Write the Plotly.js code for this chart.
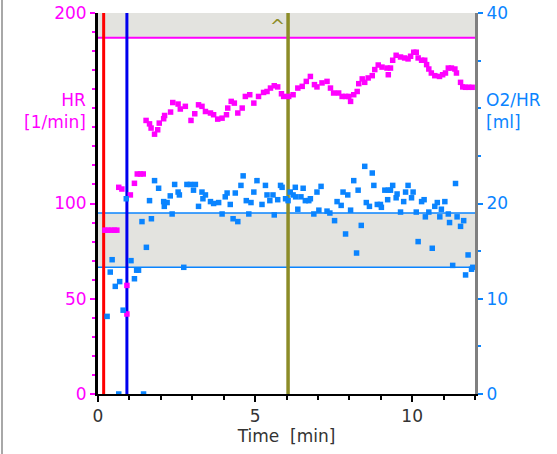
<!DOCTYPE html>
<html>
<head>
<meta charset="utf-8">
<script src="https://cdn.plot.ly/plotly-3.0.1.min.js"></script>
<style>
html,body{margin:0;padding:0;background:#fff;}
#frame{position:absolute;left:1px;top:0;width:2px;height:454px;background:#a8a8a8;}
#chart{width:557px;height:454px;}
</style>
</head>
<body>
<div id="chart"></div>
<div id="frame"></div>
<script>
// ---- Data (time in minutes) ----
const hrTime = [0.22,0.32,0.42,0.52,0.60,0.66,0.76,0.92,0.92,1.03,1.16,1.25,1.35,1.44,
  1.53,1.64,1.69,1.80,1.90,1.95,2.09,2.12,2.31,2.38,2.55,2.62,2.78,2.96,3.08,3.20,
  3.31,3.42,3.58,3.68,3.81,3.95,4.09,4.13,4.24,4.34,4.45,4.59,4.69,4.83,4.96,5.11,
  5.27,5.38,5.49,5.61,5.72,5.84,5.91,6.07,6.21,6.36,6.50,6.63,6.76,6.89,6.97,7.13,
  7.29,7.40,7.50,7.66,7.77,7.88,7.98,8.04,8.14,8.25,8.30,8.41,8.49,8.60,8.73,8.81,
  8.92,9.04,9.20,9.24,9.31,9.38,9.49,9.63,9.76,9.87,9.95,10.05,10.13,10.19,10.30,
  10.40,10.46,10.53,10.61,10.72,10.87,10.97,11.06,11.15,11.25,11.36,11.41,11.54,
  11.61,11.70,11.80,11.91];
const hrValues = [86,86,86,86,86,108.5,107.6,57,42,104.5,110.6,115.5,115.5,115.5,
  143.6,141.8,139.6,136.4,138.7,142.2,144.5,146.2,148,153,152.2,149.6,151,143.6,147.1,151.8,
  151,148.3,147.5,146.6,144.3,144.8,146.6,150.1,153.6,152.7,147.5,150.1,156.2,157.1,152.7,156.2,
  158.3,158.8,160.6,161.8,161.2,157.6,156.2,156.2,157.1,160.6,161.5,164.1,166.7,162.4,161.2,163.3,
  164.1,160.6,158,158,156.2,156.2,156.2,153.6,157.1,158.8,162.9,165.4,163.6,165.9,167.1,170.3,
  172.7,171.6,171.1,167.6,171.1,175.2,177.8,176.9,176.4,175.9,177.3,179.4,179.4,176.4,175.2,
  175.2,172.9,170.6,168.5,167.1,166.7,167.6,168.5,171.1,171.1,170.6,168.5,163.6,
  161.2,161,161,161];

const o2Time = [0.29,0.39,0.45,0.55,0.66,0.69,0.80,0.90,1.05,1.16,1.23,1.29,1.40,1.45,
  1.54,1.64,1.70,1.80,1.93,2.09,2.11,2.20,2.30,2.36,2.44,2.55,2.59,2.73,2.83,2.94,
  3.04,3.10,3.20,3.31,3.34,3.42,3.58,3.68,3.84,3.95,4.05,4.11,4.21,4.30,4.37,4.45,
  4.55,4.62,4.72,4.80,4.87,4.96,5.06,5.22,5.33,5.38,5.47,5.57,5.61,5.72,5.81,5.86,
  5.97,6.05,6.12,6.21,6.28,6.29,6.36,6.46,6.53,6.60,6.71,6.76,6.87,6.97,7.03,7.10,
  7.29,7.38,7.53,7.61,7.74,7.80,7.88,7.95,8.04,8.14,8.23,8.28,8.38,8.49,8.54,8.64,
  8.73,8.78,8.89,8.99,9.02,9.13,9.22,9.24,9.31,9.38,9.49,9.52,9.63,9.73,9.79,9.87,
  9.98,10.03,10.13,10.19,10.30,10.38,10.42,10.53,10.64,10.72,10.80,10.88,10.93,11.04,
  11.15,11.19,11.29,11.38,11.43,11.54,11.64,11.70,11.78,11.89,11.93];
const o2Values = [8.15,12.8,14.1,11.3,0,11.8,8.8,20.5,14.0,12.1,13.0,13.0,18.1,0,
  15.4,20.3,18.4,22.4,21.6,20.2,19.7,20.1,20.8,18.9,22.0,21.2,20.9,13.3,22.0,22.0,
  21.4,22.0,19.7,21.2,20.5,20.9,20.2,20.0,20.1,18.9,20.7,21.1,19.9,18.4,21.1,18.1,
  21.9,22.9,20.3,18.9,20.1,21.2,22.4,19.9,21.9,20.9,20.3,20.9,18.8,20.4,21.9,21.7,
  20.5,20.3,21.2,20.9,21.7,20.7,19.4,20.7,21.6,20.3,20.3,20.5,18.9,21.2,19.3,21.8,
  19.2,19.0,18.2,20.2,19.8,21.2,16.8,20.9,19.3,22.4,14.8,21.4,17.7,23.9,20.1,19.7,
  23.2,21.9,19.9,19.9,19.6,21.4,20.4,21.4,21.4,21.9,20.6,21.0,19.1,20.2,21.2,21.9,
  20.6,21.2,19.1,16.0,20.2,20.4,18.6,19.1,15.3,19.7,20.1,18.6,19.4,20.2,
  18.9,18.0,13.5,22.1,18.6,17.6,18.2,12.5,14.6,13.1,13.3];

const hrBandLow = 187, hrMax = 200;
const o2BandLow = 13.3, o2BandHigh = 19.0;
const markerTimes = {red: 0.18, blue: 0.92, olive: 6.05};
const xTicks = [0,5,10];
const hrTicks = [0,50,100,200];
const o2Ticks = [0,10,20,40];

const MAG = '#ff00ff', BLU = '#0a84ff', OLIVE = '#8c8c28';
const FONT = 'DejaVu Sans, Verdana, sans-serif';
const FS = 17;

const traces = [
  {x: hrTime, y: hrValues, type: 'scatter', mode: 'markers', yaxis: 'y',
   marker: {symbol: 'square', size: 5.5, color: MAG, line: {width: 0}}, hoverinfo: 'skip'},
  {x: o2Time, y: o2Values, type: 'scatter', mode: 'markers', yaxis: 'y2',
   marker: {symbol: 'square', size: 5.5, color: BLU, line: {width: 0}}, hoverinfo: 'skip'}
];

const shapes = [
  {type: 'rect', xref: 'paper', x0: 0, x1: 1, yref: 'y', y0: hrBandLow, y1: hrMax,
   fillcolor: '#e3e3df', line: {width: 0}, layer: 'below'},
  {type: 'line', xref: 'paper', x0: 0, x1: 1, yref: 'y', y0: hrBandLow, y1: hrBandLow,
   line: {color: MAG, width: 2}, layer: 'below'},
  {type: 'rect', xref: 'paper', x0: 0, x1: 1, yref: 'y2', y0: o2BandLow, y1: o2BandHigh,
   fillcolor: '#e3e3df', line: {width: 0}, layer: 'below'},
  {type: 'line', xref: 'paper', x0: 0, x1: 1, yref: 'y2', y0: o2BandHigh, y1: o2BandHigh,
   line: {color: BLU, width: 1.5}, layer: 'below'},
  {type: 'line', xref: 'paper', x0: 0, x1: 1, yref: 'y2', y0: o2BandLow, y1: o2BandLow,
   line: {color: BLU, width: 1.5}, layer: 'below'},
  {type: 'line', xref: 'x', x0: markerTimes.red, x1: markerTimes.red, yref: 'paper', y0: 0, y1: 1,
   line: {color: '#ff0000', width: 3}, layer: 'below'},
  {type: 'line', xref: 'x', x0: markerTimes.blue, x1: markerTimes.blue, yref: 'paper', y0: 0, y1: 1,
   line: {color: '#0000ee', width: 3}, layer: 'below'},
  {type: 'line', xref: 'x', x0: markerTimes.olive, x1: markerTimes.olive, yref: 'paper', y0: 0, y1: 1,
   line: {color: OLIVE, width: 3.5}, layer: 'below'}
];

const layout = {
  width: 557, height: 454,
  margin: {l: 98, r: 82, t: 13, b: 60, pad: 0},
  paper_bgcolor: '#ffffff', plot_bgcolor: '#ffffff',
  showlegend: false,
  font: {family: FONT, size: FS},
  xaxis: {
    range: [0, 12], tickmode: 'array', tickvals: xTicks,
    ticks: 'outside', ticklen: 6, tickwidth: 2, tickcolor: '#000',
    showline: true, linecolor: '#000', linewidth: 2,
    showgrid: false, zeroline: false,
    tickfont: {family: FONT, size: FS, color: '#333'},
    minor: {dtick: 1, tick0: 0, ticks: 'outside', ticklen: 4, tickwidth: 2, tickcolor: '#000', showgrid: false},
    title: {text: 'Time\u00a0 [min]', font: {family: FONT, size: FS, color: '#333'}, standoff: 2}
  },
  yaxis: {
    range: [0, 200], tickmode: 'array', tickvals: hrTicks,
    ticks: 'outside', ticklen: 5, tickwidth: 2, tickcolor: MAG,
    showline: true, linecolor: '#000', linewidth: 3,
    showgrid: false, zeroline: false,
    tickfont: {family: FONT, size: FS, color: MAG},
    minor: {dtick: 10, tick0: 0, ticks: 'outside', ticklen: 3, tickwidth: 2, tickcolor: MAG, showgrid: false}
  },
  yaxis2: {
    range: [0, 40], tickmode: 'array', tickvals: o2Ticks, overlaying: 'y', side: 'right',
    ticks: 'outside', ticklen: 5, tickwidth: 2, tickcolor: BLU,
    showline: true, linecolor: '#808080', linewidth: 3,
    showgrid: false, zeroline: false,
    tickfont: {family: FONT, size: FS, color: BLU},
    minor: {dtick: 5, tick0: 0, ticks: 'outside', ticklen: 3, tickwidth: 2, tickcolor: BLU, showgrid: false}
  },
  shapes: shapes,
  annotations: [
    {xref: 'paper', yref: 'paper', x: -0.027, y: 0.742, xanchor: 'right', yanchor: 'middle', align: 'right',
     text: 'HR<br>[1/min]', showarrow: false, font: {family: FONT, size: FS, color: MAG}},
    {xref: 'paper', yref: 'paper', x: 1.024, y: 0.742, xanchor: 'left', yanchor: 'middle', align: 'left',
     text: 'O2/HR<br>[ml]', showarrow: false, font: {family: FONT, size: FS, color: BLU}},
    {xref: 'x', yref: 'y', x: 5.71, y: 193.5, xanchor: 'center', yanchor: 'middle',
     text: '^', showarrow: false, font: {family: FONT, size: 18, color: OLIVE}}
  ]
};

Plotly.newPlot('chart', traces, layout, {staticPlot: true, displayModeBar: false});
</script>
</body>
</html>
